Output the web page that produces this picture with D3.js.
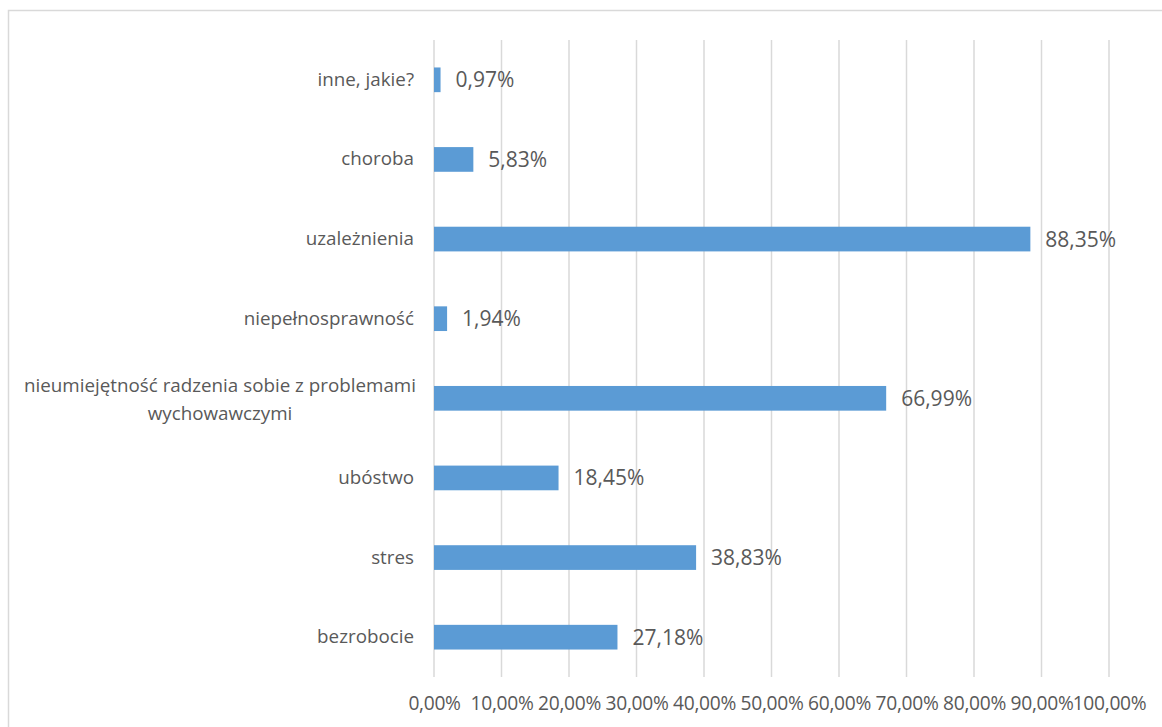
<!DOCTYPE html>
<html><head><meta charset="utf-8">
<script src="https://cdn.jsdelivr.net/npm/d3@7"></script>
<style>body{margin:0;background:#fff}svg{display:block}</style>
</head><body><svg id="c" width="1162" height="727"></svg>
<script>
const categories = ["inne, jakie?","choroba","uzależnienia","niepełnosprawność","nieumiejętność radzenia sobie z problemami wychowawczymi","ubóstwo","stres","bezrobocie"];
const values = [0.97,5.83,88.35,1.94,66.99,18.45,38.83,27.18];
const ticks = [0,10,20,30,40,50,60,70,80,90,100];

const svg = d3.select("#c");
const font = "'Open Sans', sans-serif";
const txt = "#595959";
svg.append("rect").attr("x",8.5).attr("y",10.5).attr("width",1200).attr("height",800)
  .attr("fill","#fff").attr("stroke","#d9d9d9").attr("stroke-width",1.5);

const x = d3.scaleLinear().domain([0,100]).range([434,1109]);
const y = d3.scaleBand().domain(categories).range([40,677]).paddingInner(0.69).paddingOuter(0.345);

svg.append("g").selectAll("line").data(ticks).join("line")
  .attr("x1",d=>x(d)).attr("x2",d=>x(d)).attr("y1",40).attr("y2",677)
  .attr("stroke","#d9d9d9").attr("stroke-width",1.5);

const xa = svg.append("g").attr("transform","translate(0,677)")
  .call(d3.axisBottom(x).tickValues(ticks).tickSize(0).tickPadding(19)
    .tickFormat(d=>d.toFixed(2).replace(".",",")+"%"));
xa.select(".domain").remove();
xa.selectAll("text").attr("font-family",font).attr("font-size",19.2).attr("fill",txt).attr("letter-spacing",-0.3);

svg.append("g").selectAll("rect").data(values).join("rect")
  .attr("x",x(0)).attr("y",(d,i)=>y(categories[i]))
  .attr("width",d=>x(d)-x(0)).attr("height",y.bandwidth())
  .attr("fill","#5b9bd5");

svg.append("g").selectAll("text").data(values).join("text")
  .attr("x",d=>x(d)+15).attr("y",(d,i)=>y(categories[i])+y.bandwidth()/2)
  .attr("dy","0.36em").attr("font-family",font).attr("font-size",21).attr("fill",txt)
  .text(d=>d.toFixed(2).replace(".",",")+"%");

const ya = svg.append("g").attr("transform","translate(434,0)")
  .call(d3.axisLeft(y).tickSize(0).tickPadding(20));
ya.select(".domain").remove();
ya.selectAll("text").attr("font-family",font).attr("font-size",18.8).attr("fill",txt)
  .each(function(d){
    const t = d3.select(this);
    if (d.length > 40) {
      const words = d.split(" ");
      const l1 = words.slice(0,5).join(" "), l2 = words.slice(5).join(" ");
      t.text(null).attr("text-anchor","middle").attr("dy",null);
      t.append("tspan").attr("x",-214).attr("dy","-0.34em").text(l1);
      t.append("tspan").attr("x",-214).attr("dy","1.49em").text(l2);
    }
  });
</script></body></html>
